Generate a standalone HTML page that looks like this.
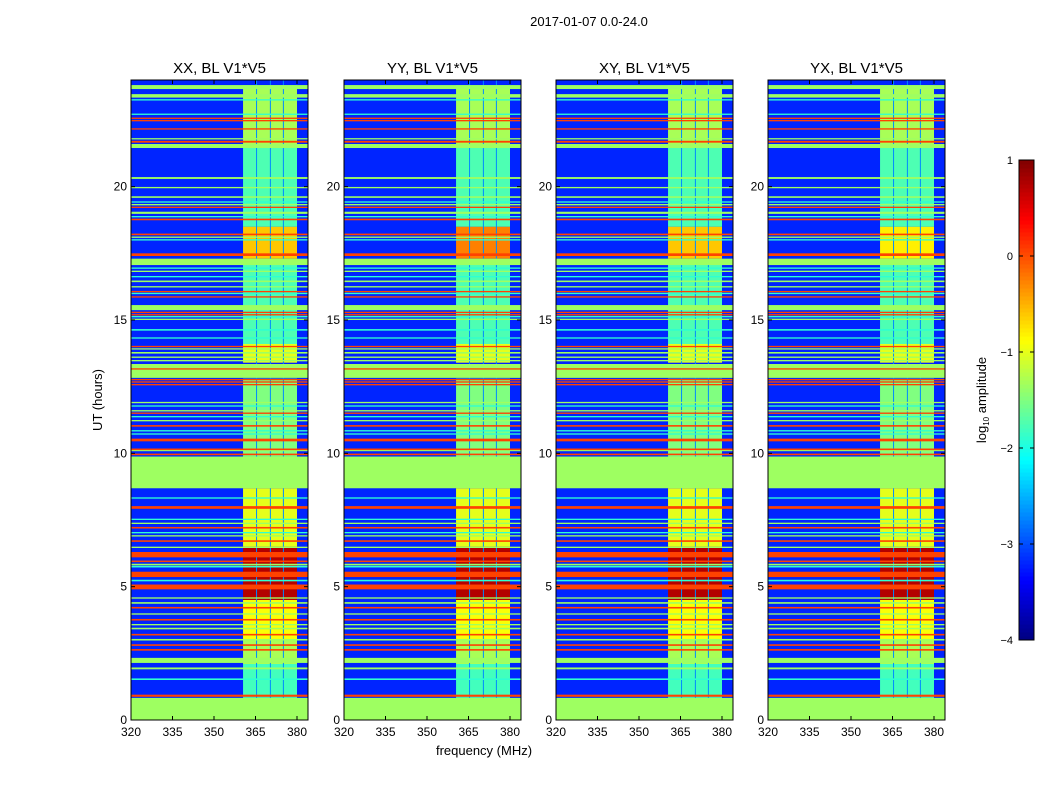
<!DOCTYPE html>
<html><head><meta charset="utf-8"><style>
html,body{margin:0;padding:0;background:#fff;}
body{width:1050px;height:800px;overflow:hidden;font-family:"Liberation Sans",sans-serif;}
svg text{font-family:"Liberation Sans",sans-serif;fill:#000;}
</style></head><body>
<svg id="chart" width="1050" height="800" viewBox="0 0 1050 800" xmlns="http://www.w3.org/2000/svg">
<text x="589" y="26" font-size="13" text-anchor="middle">2017-01-07 0.0-24.0</text>
<text transform="translate(102,400) rotate(-90)" font-size="13" text-anchor="middle">UT (hours)</text>
<text x="484" y="755" font-size="13" text-anchor="middle">frequency (MHz)</text>
<g id="panels"></g>
<g id="cbar"></g>
<text transform="translate(986,400) rotate(-90)" font-size="13" text-anchor="middle">log<tspan font-size="8" dy="3">10</tspan><tspan dy="-3"> amplitude</tspan></text>
</svg>
<script>
// ---- data ----
const panelTitles = ["XX, BL V1*V5","YY, BL V1*V5","XY, BL V1*V5","YX, BL V1*V5"];
const xTicks = [320,335,350,365,380];
const yTicks = [0,5,10,15,20];
const cbarTicks = [1,0,-1,-2,-3,-4];
const bgLevel = -3.2;
const flagLevel = -1.35;
const redLevel = 0.05;
const cyanLevel = -1.9;
// time-range band levels within the 360.5-380 MHz region [h0,h1,value]
const bandLevels = [[0.83,2.1,-1.8],[2.1,3.0,-1.3],[3.0,4.5,-0.9],[4.5,6.5,0.75],[6.5,8.69,-1.0],[9.88,12.8,-1.5],[13.4,14.1,-1.0],[14.1,17.1,-1.75],[17.3,18.5,-0.6],[18.5,21.6,-1.75],[21.6,23.8,-1.3]];
const bandExtraByPanel = [0,0.35,0,-0.2];
// full-width rows [h0,h1,type]  f=flagged r=red c=cyan
const rows = [
[0,0.83,'f'],[0.87,0.95,'r'],[1.5,1.56,'c'],[1.9,1.97,'f'],[2.14,2.33,'f'],[2.6,2.66,'r'],[2.78,2.84,'r'],[2.98,3.04,'f'],[3.17,3.23,'r'],[3.4,3.46,'f'],[3.55,3.6,'f'],[3.73,3.79,'r'],[3.95,4.0,'f'],[4.18,4.24,'r'],[4.36,4.42,'f'],[4.55,4.6,'f'],
[4.9,5.08,'r'],[5.2,5.26,'c'],[5.36,5.56,'r'],[5.72,5.78,'c'],[5.8,5.86,'f'],[5.92,5.98,'r'],[6.1,6.3,'r'],[6.45,6.5,'f'],[6.68,6.74,'r'],[6.88,6.93,'f'],[7.0,7.05,'c'],[7.18,7.24,'r'],[7.35,7.4,'f'],[7.5,7.55,'c'],[7.92,8.02,'r'],[8.3,8.35,'c'],
[8.69,9.88,'f'],[9.93,9.99,'r'],[10.08,10.14,'f'],[10.12,10.18,'r'],[10.45,10.55,'r'],[10.7,10.75,'c'],[10.82,10.87,'c'],[11.0,11.06,'r'],[11.2,11.25,'f'],[11.35,11.4,'c'],[11.48,11.53,'r'],[11.57,11.62,'f'],[11.75,11.8,'c'],[11.88,11.93,'f'],
[12.55,12.6,'r'],[12.65,12.7,'r'],[12.74,12.79,'r'],[12.83,13.35,'f'],[13.14,13.19,'r'],[13.45,13.5,'f'],[13.58,13.63,'f'],[13.74,13.8,'f'],[13.9,13.94,'f'],[13.98,14.03,'r'],[14.3,14.35,'c'],[14.6,14.66,'c'],
[15.0,15.05,'f'],[15.1,15.15,'c'],[15.17,15.22,'r'],[15.26,15.31,'r'],[15.37,15.56,'f'],[15.84,15.89,'r'],[15.97,16.02,'c'],[16.04,16.09,'r'],[16.22,16.27,'f'],[16.42,16.48,'f'],[16.6,16.65,'c'],[16.8,16.85,'f'],[16.92,16.97,'c'],
[17.06,17.3,'f'],[17.4,17.5,'r'],[17.98,18.03,'c'],[18.08,18.13,'f'],[18.18,18.24,'r'],[18.74,18.8,'r'],[18.85,18.9,'c'],[18.98,19.06,'f'],[19.2,19.25,'r'],[19.3,19.35,'f'],[19.4,19.45,'c'],[19.58,19.64,'f'],[19.94,19.99,'f'],[20.29,20.36,'f'],
[21.45,21.6,'f'],[21.65,21.72,'r'],[21.78,21.82,'f'],[22.14,22.19,'r'],[22.45,22.5,'r'],[22.54,22.59,'r'],[22.7,22.74,'c'],[23.23,23.28,'c'],[23.34,23.47,'f'],[23.66,23.81,'f']
];
const dividers = [365.2,370.2,374.9];
const bandStart = 360.5, bandEnd = 380;

// ---- helpers ----
function jet(v){
  let t=(v+4)/5; t=Math.max(0,Math.min(1,t));
  const c=x=>Math.round(255*Math.max(0,Math.min(1,1.5-Math.abs(x))));
  return `rgb(${c(4*t-3)},${c(4*t-2)},${c(4*t-1)})`;
}
const NS="http://www.w3.org/2000/svg";
function mk(tag,attrs,parent){const e=document.createElementNS(NS,tag);for(const k in attrs)e.setAttribute(k,attrs[k]);parent.appendChild(e);return e;}
const panelLefts=[131,344,556,768];
const PW=177, TOP=80, BOT=720;
const pxPerMHz=(297-131)/60;
function yOf(h){return BOT-(h/24)*(BOT-TOP);}
const panelsG=document.getElementById('panels');

panelLefts.forEach((L,pi)=>{
  const xOf=f=>L+(f-320)*pxPerMHz;
  const g=mk('g',{},panelsG);
  
  
  const bg=mk('rect',{x:L,y:TOP,width:PW,height:BOT-TOP,fill:jet(bgLevel)},g);
  
  
  bandLevels.forEach(b=>{
    let v=b[2]; if(b[0]===17.3) v+=bandExtraByPanel[pi];
    const r=mk('rect',{x:xOf(bandStart),y:yOf(b[1]),width:xOf(bandEnd)-xOf(bandStart),height:yOf(b[0])-yOf(b[1]),fill:jet(v)},g);
    
    
  });
  dividers.forEach(f=>{
    const r=mk('rect',{x:xOf(f),y:TOP,width:1,height:BOT-TOP,fill:jet(-2.7)},g);
    
    
  });
  rows.forEach(rw=>{
    const v=rw[2]==='f'?flagLevel:rw[2]==='r'?redLevel:cyanLevel;
    const y0=yOf(rw[1]), hgt=Math.max(1.3,yOf(rw[0])-y0);
    const r=mk('rect',{x:L,y:y0,width:PW,height:hgt,fill:jet(v)},g);
    
    
  });
  const fr=mk('rect',{x:L,y:TOP,width:PW,height:BOT-TOP,fill:'none',stroke:'#000','stroke-width':1},g);
  
  
  const t=mk('text',{x:L+PW/2,y:73,'font-size':15,'text-anchor':'middle'},g);
  t.textContent=panelTitles[pi];
  
  
  xTicks.forEach(f=>{
    const x=xOf(f);
    mk('line',{x1:x,y1:BOT,x2:x,y2:BOT-4,stroke:'#000'},g);
    mk('line',{x1:x,y1:TOP,x2:x,y2:TOP+4,stroke:'#000'},g);
    const tx=mk('text',{x:x,y:BOT+16,'font-size':12,'text-anchor':'middle'},g);
    tx.textContent=f;
    
    
  });
  yTicks.forEach(h=>{
    const y=yOf(h);
    mk('line',{x1:L,y1:y,x2:L+4,y2:y,stroke:'#000'},g);
    mk('line',{x1:L+PW,y1:y,x2:L+PW-4,y2:y,stroke:'#000'},g);
    const tx=mk('text',{x:L-4,y:y+4,'font-size':12,'text-anchor':'end'},g);
    tx.textContent=h;
    
    
  });
});

// colorbar
const cb=document.getElementById('cbar');
const CBX=1019,CBW=15,CBT=160,CBB=640;
for(let i=0;i<120;i++){
  const v=-4+5*(i+0.5)/120;
  const y=CBB-(i+1)*(CBB-CBT)/120;
  mk('rect',{x:CBX,y:y,width:CBW,height:(CBB-CBT)/120+0.5,fill:jet(v)},cb);
}
mk('rect',{x:CBX,y:CBT,width:CBW,height:CBB-CBT,fill:'none',stroke:'#000'},cb);
cbarTicks.forEach(v=>{
  const y=CBB-(v+4)/5*(CBB-CBT);
  mk('line',{x1:CBX,y1:y,x2:CBX+4,y2:y,stroke:'#000'},cb);
  mk('line',{x1:CBX+CBW,y1:y,x2:CBX+CBW-4,y2:y,stroke:'#000'},cb);
  const tx=mk('text',{x:1013,y:y+4,'font-size':11,'text-anchor':'end'},cb);
  tx.textContent=v<0?'\u2212'+(-v):String(v);
  
  
});
</script>
</body></html>
